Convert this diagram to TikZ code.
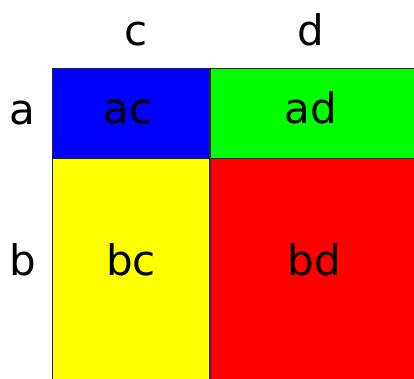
\documentclass[tikz,border=0pt]{standalone}
\usepackage{fontspec}
\setmainfont{DejaVu Sans}
\usepackage{tikz}
\usetikzlibrary{positioning}

\definecolor{cellblue}{RGB}{0,0,255}
\definecolor{cellgreen}{RGB}{0,255,0}
\definecolor{cellyellow}{RGB}{255,255,0}
\definecolor{cellred}{RGB}{255,0,0}

\tikzset{
  cell/.style={draw=black!85, line width=1.2pt},
  lbl/.style={anchor=base, inner sep=0pt, font=\fontsize{42}{50}\selectfont}
}

\begin{document}
\begin{tikzpicture}[x=1pt, y=1pt, line cap=round, line join=round]
	\useasboundingbox (0,0) rectangle (414,378);
	\clip (0,0) rectangle (414,378);

	% cells of the grid
	\filldraw[cell, fill=cellblue]   (52.5,309.5) rectangle (210,219.5);
	\filldraw[cell, fill=cellgreen]  (210,309.5)  rectangle (420,219.5);
	\filldraw[cell, fill=cellyellow] (52.5,219.5) rectangle (210,-5);
	\filldraw[cell, fill=cellred]    (210,219.5)  rectangle (420,-5);

	% column and row heads
	\node[lbl] (colc) at (136,332) {c};
	\node[lbl] (cold) at (311,332) {d};
	\node[lbl] (rowa) at (22,254) {a};
	\node[lbl] (rowb) at (23,103) {b};

	% products
	\node[lbl] (ac) at (128,254.5) {ac};
	\node[lbl] (ad) at (311,254.5) {ad};
	\node[lbl] (bc) at (131,102.5) {bc};
	\node[lbl] (bd) at (314,102.5) {bd};
\end{tikzpicture}
\end{document}
